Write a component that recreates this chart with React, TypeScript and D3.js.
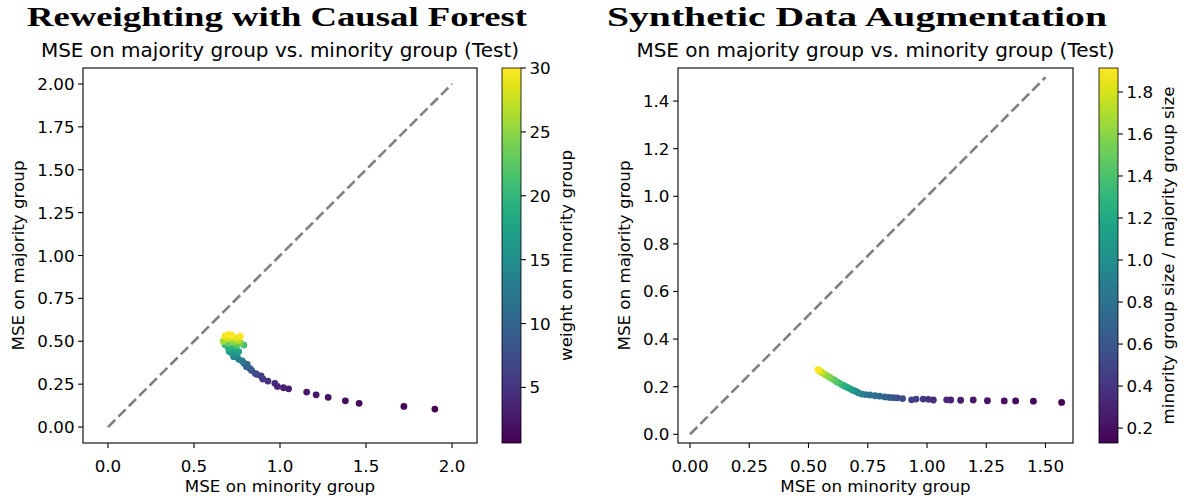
import React from "react";
import * as d3 from "d3";

// ---------- data ----------
const leftX = [1.90, 1.72, 1.46, 1.38, 1.28, 1.21, 1.155, 1.05, 1.02, 0.985, 0.97, 0.93, 0.90, 0.89, 0.865, 0.855, 0.835, 0.826, 0.805, 0.81, 0.79, 0.78, 0.76, 0.73, 0.75, 0.72, 0.705, 0.76, 0.74, 0.70, 0.72, 0.68, 0.79, 0.75, 0.70, 0.77, 0.73, 0.67, 0.76, 0.70, 0.74, 0.68, 0.72, 0.77, 0.70];
const leftY = [0.105, 0.120, 0.138, 0.153, 0.173, 0.188, 0.204, 0.223, 0.229, 0.237, 0.255, 0.268, 0.280, 0.298, 0.307, 0.313, 0.330, 0.340, 0.352, 0.365, 0.372, 0.385, 0.395, 0.410, 0.420, 0.430, 0.440, 0.440, 0.455, 0.460, 0.470, 0.480, 0.478, 0.475, 0.490, 0.490, 0.495, 0.500, 0.505, 0.515, 0.520, 0.530, 0.535, 0.530, 0.540];
const leftWeight = [0.7, 1.0, 1.3, 1.6, 1.9, 2.2, 2.5, 2.9, 3.3, 3.7, 4.1, 4.6, 5.2, 5.8, 6.5, 7.2, 8.0, 8.8, 9.6, 10.5, 11.4, 12.3, 13.2, 14.0, 14.8, 15.6, 16.4, 17.2, 18.0, 18.8, 19.6, 20.4, 21.2, 22.0, 23.0, 24.0, 25.0, 26.0, 27.0, 28.0, 28.8, 29.4, 29.8, 30.0, 30.0];

const rightX = [1.568, 1.449, 1.374, 1.326, 1.255, 1.195, 1.142, 1.100, 1.083, 1.027, 1.006, 0.984, 0.954, 0.935, 0.897, 0.875, 0.858, 0.841, 0.822, 0.800, 0.781, 0.759, 0.740, 0.724, 0.710, 0.700, 0.690, 0.680, 0.670, 0.660, 0.650, 0.640, 0.630, 0.620, 0.610, 0.600, 0.590, 0.580, 0.570, 0.560, 0.553, 0.547, 0.542, 0.540];
const rightY = [0.134, 0.139, 0.140, 0.140, 0.141, 0.144, 0.143, 0.144, 0.145, 0.144, 0.147, 0.148, 0.148, 0.145, 0.150, 0.153, 0.154, 0.155, 0.157, 0.160, 0.162, 0.165, 0.167, 0.169, 0.175, 0.180, 0.184, 0.189, 0.194, 0.199, 0.204, 0.209, 0.215, 0.220, 0.227, 0.233, 0.239, 0.245, 0.251, 0.257, 0.262, 0.266, 0.270, 0.272];
const rightRatio = [0.13, 0.15, 0.17, 0.19, 0.21, 0.24, 0.27, 0.30, 0.33, 0.36, 0.39, 0.42, 0.45, 0.48, 0.52, 0.56, 0.60, 0.64, 0.68, 0.72, 0.76, 0.80, 0.85, 0.90, 0.95, 1.00, 1.05, 1.10, 1.15, 1.20, 1.25, 1.30, 1.35, 1.40, 1.45, 1.50, 1.55, 1.60, 1.65, 1.70, 1.75, 1.80, 1.85, 1.90];

const leftXTicks = [0, 0.5, 1.0, 1.5, 2.0];
const leftYTicks = [0, 0.25, 0.5, 0.75, 1.0, 1.25, 1.5, 1.75, 2.0];
const leftCbTicks = [5, 10, 15, 20, 25, 30];
const rightXTicks = [0, 0.25, 0.5, 0.75, 1.0, 1.25, 1.5];
const rightYTicks = [0, 0.2, 0.4, 0.6, 0.8, 1.0, 1.2, 1.4];
const rightCbTicks = [0.2, 0.4, 0.6, 0.8, 1.0, 1.2, 1.4, 1.6, 1.8];

const SANS = "DejaVu Sans";
const FS = 16.7;

type PanelProps = {
  id: string;
  title: string;
  titleX: number;
  xs: number[];
  ys: number[];
  cs: number[];
  xDomain: [number, number];
  yDomain: [number, number];
  cDomain: [number, number];
  x0: number; x1: number; y0: number; y1: number;
  cbX: number;
  xTicks: number[]; yTicks: number[]; cbTicks: number[];
  xFmt: string; yFmt: string; cbFmt: string;
  diagMax: number;
  cbLabel: string;
  cbLabelX: number;
  yLabelX: number;
};

function Panel(p: PanelProps) {
  const x = d3.scaleLinear().domain(p.xDomain).range([p.x0, p.x1]);
  const y = d3.scaleLinear().domain(p.yDomain).range([p.y1, p.y0]);
  const c = d3.scaleSequential(d3.interpolateViridis).domain(p.cDomain);
  const cbY = d3.scaleLinear().domain(p.cDomain).range([p.y1, p.y0]);
  const xf = d3.format(p.xFmt);
  const yf = d3.format(p.yFmt);
  const cf = d3.format(p.cbFmt);
  const cx = (p.x0 + p.x1) / 2;
  const cy = (p.y0 + p.y1) / 2;
  const cbW = 19;
  const stops = d3.range(0, 1.0001, 0.05);
  const tick = 4.9;
  return (
    <g>
      <defs>
        <linearGradient id={p.id + "grad"} x1="0" y1="1" x2="0" y2="0">
          {stops.map((t, i) => (
            <stop key={i} offset={t} stopColor={d3.interpolateViridis(t)} />
          ))}
        </linearGradient>
      </defs>
      {/* title */}
      <text x={p.titleX} y={26} textAnchor="middle" fontFamily="Liberation Serif" fontWeight="bold" fontSize={28} textLength={500} lengthAdjust="spacingAndGlyphs">{p.title}</text>
      <text x={cx} y={57} textAnchor="middle" fontFamily={SANS} fontSize={20}>MSE on majority group vs. minority group (Test)</text>
      {/* diagonal */}
      <line x1={x(0)} y1={y(0)} x2={x(p.diagMax)} y2={y(p.diagMax)} stroke="#808080" strokeWidth={2.6} strokeDasharray="10.3,4.4" />
      {/* points */}
      {p.xs.map((v, i) => (
        <circle key={i} cx={x(v)} cy={y(p.ys[i])} r={3.4} fill={c(p.cs[i])} />
      ))}
      {/* frame */}
      <rect x={p.x0} y={p.y0} width={p.x1 - p.x0} height={p.y1 - p.y0} fill="none" stroke="#000" strokeWidth={1.1} />
      {/* x ticks */}
      {p.xTicks.map((t, i) => (
        <g key={"xt" + i}>
          <line x1={x(t)} x2={x(t)} y1={p.y1} y2={p.y1 + tick} stroke="#000" strokeWidth={1.1} />
          <text x={x(t)} y={p.y1 + 28.5} textAnchor="middle" fontFamily={SANS} fontSize={FS}>{xf(t)}</text>
        </g>
      ))}
      {p.yTicks.map((t, i) => (
        <g key={"yt" + i}>
          <line x1={p.x0 - tick} x2={p.x0} y1={y(t)} y2={y(t)} stroke="#000" strokeWidth={1.1} />
          <text x={p.x0 - 8.5} y={y(t)} dy="0.36em" textAnchor="end" fontFamily={SANS} fontSize={FS}>{yf(t)}</text>
        </g>
      ))}
      <text x={cx} y={492} textAnchor="middle" fontFamily={SANS} fontSize={FS}>MSE on minority group</text>
      <text transform={`translate(${p.yLabelX},${cy}) rotate(-90)`} textAnchor="middle" dy="0.36em" fontFamily={SANS} fontSize={FS}>MSE on majority group</text>
      {/* colorbar */}
      <rect x={p.cbX} y={p.y0} width={cbW} height={p.y1 - p.y0} fill={`url(#${p.id}grad)`} stroke="#000" strokeWidth={0.8} />
      {p.cbTicks.map((t, i) => (
        <g key={"cb" + i}>
          <line x1={p.cbX + cbW} x2={p.cbX + cbW + tick} y1={cbY(t)} y2={cbY(t)} stroke="#000" strokeWidth={1.1} />
          <text x={p.cbX + cbW + 8.5} y={cbY(t)} dy="0.36em" fontFamily={SANS} fontSize={FS}>{cf(t)}</text>
        </g>
      ))}
      <text transform={`translate(${p.cbLabelX},${cy}) rotate(-90)`} textAnchor="middle" dy="0.36em" fontFamily={SANS} fontSize={FS}>{p.cbLabel}</text>
    </g>
  );
}

export default function App() {
  return (
    <svg width={1187} height={502} style={{ position: "absolute", left: 0, top: 0, background: "#fff" }}>
      <rect width={1187} height={502} fill="#fff" />
      <Panel
        id="l"
        title="Reweighting with Causal Forest"
        titleX={277}
        xs={leftX} ys={leftY} cs={leftWeight}
        xDomain={[-0.145, 2.145]} yDomain={[-0.093, 2.093]} cDomain={[0.65, 30]}
        x0={83} x1={477} y0={68} y1={443}
        cbX={502}
        xTicks={leftXTicks} yTicks={leftYTicks} cbTicks={leftCbTicks}
        xFmt=".1f" yFmt=".2f" cbFmt="d"
        diagMax={2}
        cbLabel="weight on minority group"
        cbLabelX={566}
        yLabelX={18}
      />
      <Panel
        id="r"
        title="Synthetic Data Augmentation"
        titleX={857}
        xs={rightX} ys={rightY} cs={rightRatio}
        xDomain={[-0.0506, 1.616]} yDomain={[-0.0366, 1.539]} cDomain={[0.129, 1.914]}
        x0={678} x1={1073} y0={68} y1={443}
        cbX={1099}
        xTicks={rightXTicks} yTicks={rightYTicks} cbTicks={rightCbTicks}
        xFmt=".2f" yFmt=".1f" cbFmt=".1f"
        diagMax={1.5}
        cbLabel="minority group size / majority group size"
        cbLabelX={1168}
        yLabelX={624}
      />
    </svg>
  );
}
